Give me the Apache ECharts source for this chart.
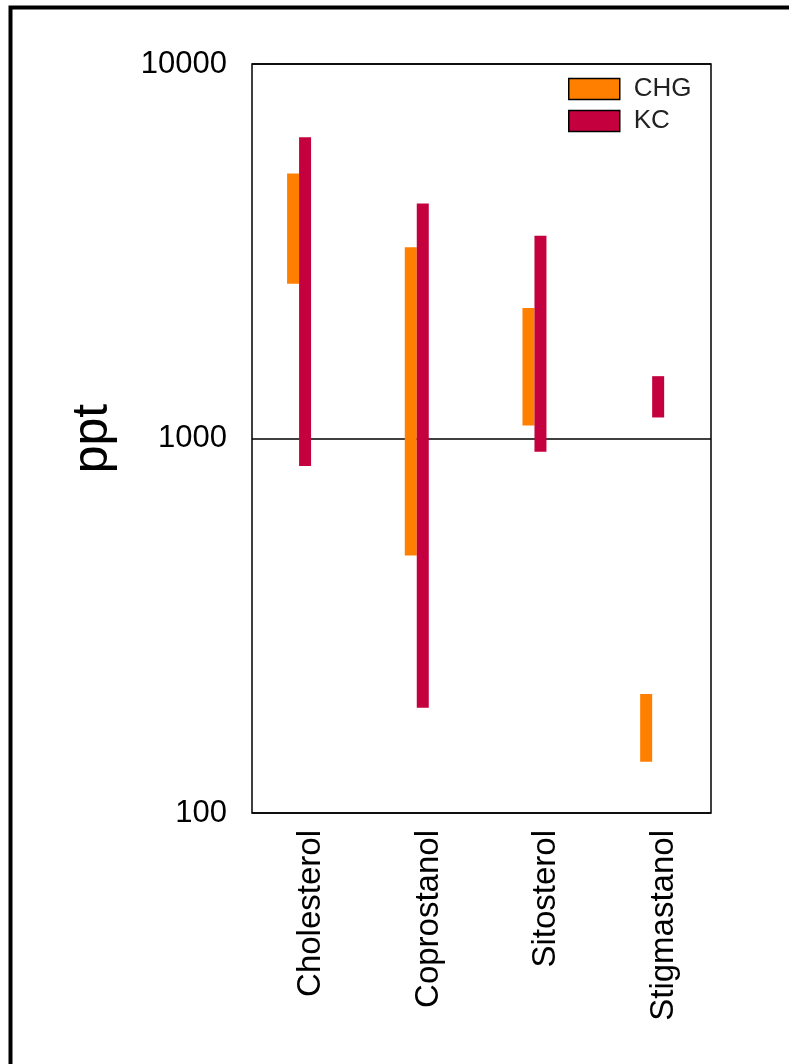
<!DOCTYPE html>
<html>
<head>
<meta charset="utf-8">
<script src="https://cdn.jsdelivr.net/npm/echarts@6/dist/echarts.min.js"></script>
<style>
html,body{margin:0;padding:0;background:#fff;}
#chart{width:789px;height:1064px;}
</style>
</head>
<body>
<div id="chart"></div>
<script>
var categories = ['Cholesterol', 'Coprostanol', 'Sitosterol', 'Stigmastanol'];
var seriesNames = ['CHG', 'KC'];
var chgLow  = [2590, 487, 1083, 137];
var chgHigh = [5100, 3240, 2230, 208];
var kcLow   = [845, 191, 922, 1138];
var kcHigh  = [6370, 4240, 3480, 1467];
var yTicks = [100, 1000, 10000];

var FONT = 'Liberation Sans, Arial, sans-serif';

function rows(lo, hi) {
  return categories.map(function (c, i) { return [i, lo[i], hi[i]]; });
}
function makeRender(offset) {
  return function (params, api) {
    var x = api.value(0);
    var p1 = api.coord([x, api.value(1)]);
    var p2 = api.coord([x, api.value(2)]);
    var w = 12;
    return {
      type: 'rect',
      shape: { x: p1[0] + offset, y: p2[1], width: w, height: p1[1] - p2[1] },
      style: api.style({ lineWidth: 0 })
    };
  };
}

var chart = echarts.init(document.getElementById('chart'), null, { renderer: 'canvas' });
chart.setOption({
  animation: false,
  backgroundColor: '#fff',
  textStyle: { fontFamily: FONT },
  graphic: [{
    type: 'polyline',
    shape: { points: [[10.5, 1100], [10.5, 7.5], [820, 7.5]] },
    style: { stroke: '#000', lineWidth: 4, fill: null },
    silent: true
  }],
  grid: { left: 252, right: 78, top: 64, bottom: 251, show: true, borderColor: '#000', borderWidth: 1.5, containLabel: false },
  legend: {
    orient: 'vertical',
    left: 568,
    top: 76,
    padding: 0,
    itemWidth: 51,
    itemHeight: 21,
    itemGap: 6,
    data: seriesNames,
    itemStyle: { borderColor: '#000', borderWidth: 1.5 },
    textStyle: { fontSize: 26, color: '#222', fontFamily: FONT, lineHeight: 23, padding: [0, 0, 0, 9] },
    icon: 'rect'
  },
  xAxis: {
    type: 'value',
    min: -0.4,
    max: 3.5,
    axisLine: { show: false },
    axisTick: { show: false },
    splitLine: { show: false },
    axisLabel: {
      customValues: categories.map(function (c, i) { return i + 0.1; }),
      formatter: function (v) { return categories[Math.round(v - 0.1)]; },
      rotate: 90,
      margin: 17,
      fontSize: 33,
      color: '#000',
      fontFamily: FONT
    }
  },
  yAxis: {
    type: 'log',
    logBase: 10,
    min: 100,
    max: 10000,
    name: 'ppt',
    nameLocation: 'middle',
    nameRotate: 90,
    nameGap: 134,
    nameTextStyle: { fontSize: 50, color: '#000', fontFamily: FONT },
    axisLine: { show: false },
    axisTick: { show: false },
    splitLine: { show: true, lineStyle: { color: '#000', width: 1.5 } },
    axisLabel: {
      customValues: yTicks,
      formatter: function (v) { return String(Math.round(v)); },
      margin: 25,
      fontSize: 31,
      color: '#000',
      fontFamily: FONT
    }
  },
  series: [
    {
      name: 'CHG',
      type: 'custom',
      renderItem: makeRender(-12),
      itemStyle: { color: '#ff8000' },
      encode: { x: 0, y: [1, 2] },
      data: rows(chgLow, chgHigh)
    },
    {
      name: 'KC',
      type: 'custom',
      renderItem: makeRender(0),
      itemStyle: { color: '#c4003f' },
      encode: { x: 0, y: [1, 2] },
      data: rows(kcLow, kcHigh)
    }
  ]
});
</script>
</body>
</html>
